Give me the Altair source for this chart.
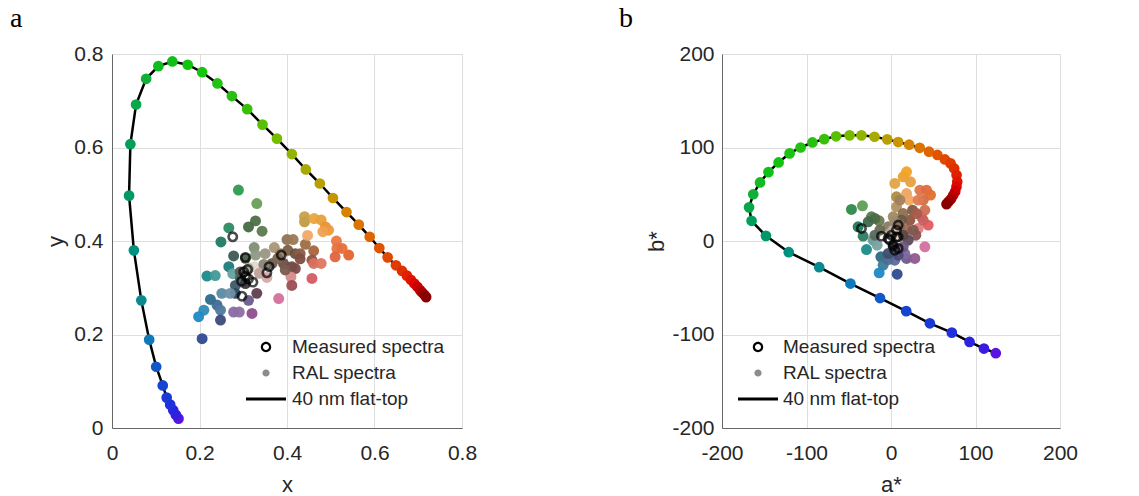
import altair as alt
import pandas as pd

# ---------------- data ----------------
# 40 nm flat-top spectral locus, blue end -> red end
LOCUS_X = [0.152, 0.146, 0.140, 0.133, 0.125, 0.116, 0.101, 0.085, 0.067, 0.050,
           0.039, 0.042, 0.055, 0.078, 0.106, 0.138, 0.173, 0.206, 0.241, 0.274,
           0.309, 0.344, 0.377, 0.411, 0.443, 0.475, 0.505, 0.536, 0.564, 0.589,
           0.611, 0.630, 0.649, 0.663, 0.674, 0.683, 0.691, 0.698, 0.704, 0.709,
           0.714, 0.718]
LOCUS_Y = [0.020, 0.028, 0.038, 0.050, 0.065, 0.091, 0.131, 0.189, 0.273, 0.380,
           0.497, 0.607, 0.692, 0.747, 0.774, 0.784, 0.777, 0.761, 0.737, 0.710,
           0.682, 0.649, 0.619, 0.586, 0.553, 0.523, 0.492, 0.462, 0.435, 0.409,
           0.385, 0.365, 0.348, 0.336, 0.326, 0.317, 0.309, 0.302, 0.295, 0.290,
           0.285, 0.280]
LOCUS_A = [124, 110, 93, 72, 46, 18, -13, -48, -85, -121,
           -148, -165, -168, -163, -155, -145, -133, -120, -107, -93,
           -79, -65, -49, -35, -19.5, -4.5, 8.5, 21.5, 34, 45,
           55, 63.8, 70.5, 74.8, 77.6, 78.4, 77.5, 76, 73.6, 71,
           68, 65.7]
LOCUS_B = [-120, -115, -108, -98, -88, -75, -61, -45.5, -28, -12,
           5.5, 21.6, 36, 50, 62.6, 73.7, 84, 93.7, 100, 105.4,
           109, 112, 113, 113, 111.5, 108.7, 105.8, 103, 99.7, 95.5,
           92, 87.2, 83, 77.6, 70.5, 63.3, 58, 53, 49, 45,
           42, 39.4]
LOCUS_COLORS = ["#5a14e0", "#3a1ce0", "#2a24e0", "#2030dc", "#1a38d8", "#1444d0",
                "#1058c8", "#107ab8", "#0a8a90", "#009080", "#009868", "#00a058",
                "#08a848", "#10b038", "#10bc20", "#10c018", "#10c410", "#18c410",
                "#20c410", "#28c010", "#38c008", "#58c000", "#78bc00", "#90b400",
                "#a8aa00", "#b8a000", "#c89400", "#d48400", "#dc7400", "#e06400",
                "#e05400", "#e04800", "#e03c00", "#e03000", "#e02000", "#e01400",
                "#dc0800", "#d00000", "#c00000", "#ac0000", "#980000", "#880000"]

# RAL colour samples in CIE xy
RAL_X = [0.289, 0.331, 0.328, 0.312, 0.343, 0.267, 0.249, 0.278, 0.305, 0.325,
         0.328, 0.350, 0.371, 0.385, 0.400, 0.414, 0.402, 0.419, 0.392, 0.411,
         0.430, 0.442, 0.461, 0.457, 0.419, 0.409, 0.411, 0.457, 0.461, 0.478,
         0.440, 0.440, 0.462, 0.478, 0.488, 0.495, 0.482, 0.447, 0.513, 0.514,
         0.510, 0.541, 0.526, 0.267, 0.276, 0.217, 0.236, 0.282, 0.293, 0.282,
         0.251, 0.270, 0.225, 0.240, 0.248, 0.210, 0.198, 0.248, 0.278, 0.291,
         0.320, 0.312, 0.331, 0.381, 0.206, 0.325, 0.354, 0.312, 0.293, 0.366,
         0.379, 0.347, 0.396, 0.305, 0.337, 0.430]
RAL_Y = [0.509, 0.480, 0.443, 0.430, 0.421, 0.428, 0.398, 0.368, 0.363, 0.386,
         0.370, 0.373, 0.386, 0.373, 0.403, 0.403, 0.380, 0.373, 0.352, 0.345,
         0.373, 0.393, 0.379, 0.359, 0.341, 0.323, 0.305, 0.320, 0.352, 0.352,
         0.441, 0.452, 0.448, 0.445, 0.430, 0.423, 0.420, 0.412, 0.400, 0.384,
         0.366, 0.370, 0.384, 0.345, 0.330, 0.325, 0.326, 0.305, 0.320, 0.288,
         0.288, 0.288, 0.275, 0.263, 0.252, 0.252, 0.238, 0.231, 0.248, 0.248,
         0.245, 0.273, 0.288, 0.277, 0.191, 0.345, 0.322, 0.341, 0.334, 0.352,
         0.363, 0.350, 0.338, 0.309, 0.331, 0.362]
RAL_XY_COLORS = ["#2e9a50", "#6a9e56", "#4e7048", "#456a42", "#5e7a50", "#2e8a62",
                 "#1e7a66", "#3e5a52", "#4a5e4a", "#7e8e74", "#8e9a84", "#9a9684",
                 "#a89676", "#9a8666", "#8e7452", "#9a7a56", "#7a5e44", "#6e5040",
                 "#6e4e44", "#6a4a42", "#8a5e42", "#9e6e44", "#a8643e", "#8e5242",
                 "#7a4a44", "#d88a8a", "#9a4e54", "#d45a66", "#d8705e", "#de765e",
                 "#c09a44", "#c8a04a", "#eaa440", "#e8a03a", "#e8922e", "#ec9a3a",
                 "#f0a050", "#f2a866", "#e87840", "#e87240", "#e06440", "#e2642e",
                 "#e86e3a", "#1e7a7a", "#64a2a2", "#1e8a8a", "#3e9a98", "#3e5a6a",
                 "#4a6a6e", "#2e4a5e", "#5a8aa6", "#6e90a4", "#2e6a8a", "#3e6a92",
                 "#4e7a9e", "#2e8ab4", "#1e8ac4", "#3e4a7e", "#8a6aa6", "#8e6ea4",
                 "#8e4e8e", "#6e5a8e", "#5e3e4e", "#d4709e", "#2e4a8e", "#e4d8cc",
                 "#d8a8a8", "#b0aca0", "#5a5a54", "#6e5e52", "#7e6650", "#8a8474",
                 "#7a5a4e", "#3a3a3a", "#c0a098", "#7e4e40"]

# RAL colour samples in CIELAB (a*, b*)
RAL_A = [-46.8, -33.8, -23.1, -14.0, -38.9, -33.0, -29.0, -21.1, -16.4, -12.0,
         -9.3, -14.0, 7.3, 4.5, 18.4, 28.2, 16.4, -3.4, -3.4, 2.6,
         6.5, 6.5, 4.5, 14.4, 18.4, 23.1, 18.4, 21.5, 34.2, 42.1,
         46.8, 38.1, 40.1, 36.1, 44.0, 32.2, 29.4, 40.1, 20.3, 18.4,
         22.3, 14.4, 25.5, 12.4, 26.3, 20.3, 14.4, -13.2, -19.1, 2.6,
         -1.4, 8.5, 4.5, 10.5, 14.4, -3.4, 8.5, 2.6, -19.1, -27.0,
         32.2, 38.1, 30.2, 10.5]
RAL_B = [33.7, 37.6, 25.9, 21.6, 15.2, 5.2, -9.1, 0.9, -4.5, -16.9,
         -25.9, -34.1, -35.5, -20.5, -18.7, -18.7, -13.4, -19.8, 15.2, 25.9,
         36.6, 47.3, 61.6, 68.7, 74.0, 63.3, 50.8, 43.7, 54.4, 54.4,
         49.1, 43.7, 33.0, 25.9, 17.0, 13.4, 6.2, -6.2, 8.0, 12.3,
         22.3, 29.4, 33.0, 22.3, 11.6, 0.9, -6.2, 11.6, 6.2, 11.6,
         8.0, 8.0, 20.5, 17.0, 6.2, -13.4, -15.2, -6.2, 24.1, 20.5,
         43.7, 22.3, 29.4, 43.7]
RAL_LAB_COLORS = ["#2e8a4a", "#5e9e56", "#567a4a", "#6a7a52", "#1e7a5e", "#2e7a62",
                  "#1e8a8a", "#6a9a92", "#7aa2a2", "#2e6a82", "#3e7a9a", "#1e8ac4",
                  "#2e4a8e", "#5e6a9e", "#6e5a8e", "#8e5a8e", "#7e6a9e", "#4e6a8e",
                  "#8a7a62", "#a08a62", "#b09262", "#b08a40", "#e0a444", "#e8a232",
                  "#f0a428", "#e8a040", "#eca462", "#f0a864", "#e07444", "#e06a42",
                  "#e07032", "#d46e46", "#d07050", "#d07062", "#e05c5e", "#e07c7e",
                  "#8e4e54", "#d4709e", "#c49494", "#9e6a5a", "#8e5442", "#8e6e4e",
                  "#7e5c44", "#6e5a4a", "#7e5a4e", "#5e4a5e", "#6a5a7e", "#6a6a52",
                  "#5a6a5e", "#c4b4a4", "#b0aca2", "#e4d8cc", "#9a8a72", "#8a6e56",
                  "#5a4a42", "#3e4e6e", "#4e4a7a", "#3a3a48", "#4e6a44", "#3e6a4a",
                  "#de7a52", "#c86060", "#a85a4a", "#a08258"]

# measured spectra
MEAS_X = [0.276, 0.305, 0.310, 0.305, 0.296, 0.322, 0.297, 0.359, 0.354, 0.387,
          0.312, 0.301]
MEAS_Y = [0.409, 0.365, 0.339, 0.325, 0.314, 0.312, 0.282, 0.345, 0.332, 0.370,
          0.319, 0.334]
MEAS_A = [-35.0, -11.3, 8.5, 8.5, -1.4, 2.6, 6.5, -3.4, 8.5, 0.6, 4.5, 6.5]
MEAS_B = [13.4, 5.2, 17.0, -8.0, 0.9, -4.5, 4.4, 2.7, 4.4, 6.2, -9.8, 11.6]

LEGEND_LABELS = ["Measured spectra", "RAL spectra", "40 nm flat-top"]
LEGEND_COLORS = ["#000000", "#8c8c8c", "#000000"]

# ---------------- style ----------------
SANS = "Liberation Sans"
SERIF = "Liberation Serif"
INK = "#262626"

# legend glyphs (unit = half the symbol box): ring, dot, 40 px bar
RING = ("M0.52,0A0.52,0.52 0 1,1 -0.52,0A0.52,0.52 0 1,1 0.52,0Z"
        "M0.3,0A0.3,0.3 0 1,0 -0.3,0A0.3,0.3 0 1,0 0.3,0Z")
DOT = "M0.36,0A0.36,0.36 0 1,1 -0.36,0A0.36,0.36 0 1,1 0.36,0Z"
BAR = "M-2,-0.16L2,-0.16L2,0.16L-2,0.16Z"

locus_xy = pd.DataFrame({"i": range(len(LOCUS_X)), "x": LOCUS_X, "y": LOCUS_Y, "c": LOCUS_COLORS})
locus_lab = pd.DataFrame({"i": range(len(LOCUS_A)), "x": LOCUS_A, "y": LOCUS_B, "c": LOCUS_COLORS})
ral_xy = pd.DataFrame({"x": RAL_X, "y": RAL_Y, "c": RAL_XY_COLORS})
ral_lab = pd.DataFrame({"x": RAL_A, "y": RAL_B, "c": RAL_LAB_COLORS})
meas_xy = pd.DataFrame({"x": MEAS_X, "y": MEAS_Y})
meas_lab = pd.DataFrame({"x": MEAS_A, "y": MEAS_B})
key_df = pd.DataFrame({"series": LEGEND_LABELS})


def panel(locus, ral, meas, xdom, ydom, xticks, yticks, xtitle, ytitle,
          w, h, tag, tag_dx, legend_x, label_offset, ylab_pad, ytitle_x):
    xs = alt.Scale(domain=xdom, nice=False, zero=False)
    ys = alt.Scale(domain=ydom, nice=False, zero=False)
    X = alt.X("x:Q", scale=xs, axis=alt.Axis(
        values=xticks, title=xtitle, labelExpr="toString(datum.value)",
        labelPadding=14, titleY=63, titleBaseline="alphabetic"))
    Y = alt.Y("y:Q", scale=ys, axis=alt.Axis(
        values=yticks, title=ytitle, labelExpr="toString(datum.value)",
        labelPadding=ylab_pad, titleX=ytitle_x, titleBaseline="alphabetic"))

    line = alt.Chart(locus).mark_line(color="black", strokeWidth=2.5).encode(
        x=X, y=Y, order=alt.Order("i:Q"))
    locus_dots = alt.Chart(locus).mark_circle(size=115, opacity=1).encode(
        x=X, y=Y, fill=alt.Fill("c:N", scale=None))
    ral_dots = alt.Chart(ral).mark_circle(size=120, opacity=0.95).encode(
        x=X, y=Y, fill=alt.Fill("c:N", scale=None))
    meas_rings = alt.Chart(meas).mark_point(
        shape="circle", filled=False, color="black", strokeWidth=2.6, size=70).encode(x=X, y=Y)

    leg = alt.Legend(orient="none", legendX=legend_x, legendY=283, title=None,
                     labelFont=SANS, labelFontSize=19, labelColor=INK, labelLimit=400,
                     labelOffset=label_offset, symbolSize=400, symbolStrokeWidth=0,
                     symbolOpacity=1, symbolOffset=0, rowPadding=6, padding=0)
    key = alt.Chart(key_df).mark_point(filled=True, opacity=0).encode(
        color=alt.Color("series:N", legend=leg,
                        scale=alt.Scale(domain=LEGEND_LABELS, range=LEGEND_COLORS)),
        shape=alt.Shape("series:N", legend=leg,
                        scale=alt.Scale(domain=LEGEND_LABELS, range=[RING, DOT, BAR])))

    return alt.layer(line, locus_dots, ral_dots, meas_rings, key).properties(
        width=w, height=h,
        title=alt.TitleParams(tag, anchor="start", frame="group", dx=tag_dx, dy=12,
                              offset=0, baseline="alphabetic", font=SERIF, fontSize=28,
                              fontWeight="normal", color="black"))


pa = panel(locus_xy, ral_xy, meas_xy, [0, 0.8], [0, 0.8],
           [0, 0.2, 0.4, 0.6, 0.8], [0, 0.2, 0.4, 0.6, 0.8], "x", "y",
           350, 374, "a", -102, 144, 16, 9, -50)
pb = panel(locus_lab, ral_lab, meas_lab, [-200, 200], [-200, 200],
           [-200, -100, 0, 100, 200], [-200, -100, 0, 100, 200], "a*", "b*",
           338, 374, "b", -103, 26, 15, 8, -59)

chart = alt.hconcat(pa, pb, spacing=260, bounds="flush").resolve_scale(
    color="independent", shape="independent"
).resolve_legend(
    color="independent", shape="independent"
).properties(
    autosize=alt.AutoSizeParams(type="none"),
    padding={"left": 112, "top": 54, "right": 1027, "bottom": 442},
).configure_axis(
    labelFont=SANS, labelFontSize=21, labelColor=INK,
    titleFont=SANS, titleFontSize=22, titleFontWeight="normal", titleColor=INK,
    gridColor="#dedede", gridWidth=1, domainColor="#666666", domainWidth=1,
    ticks=False, tickSize=0, labelFlush=False, labelOverlap=False,
).configure_view(stroke="#d0d0d0", strokeWidth=1)

chart.save("out.html", embed_options={"renderer": "svg", "actions": False})
